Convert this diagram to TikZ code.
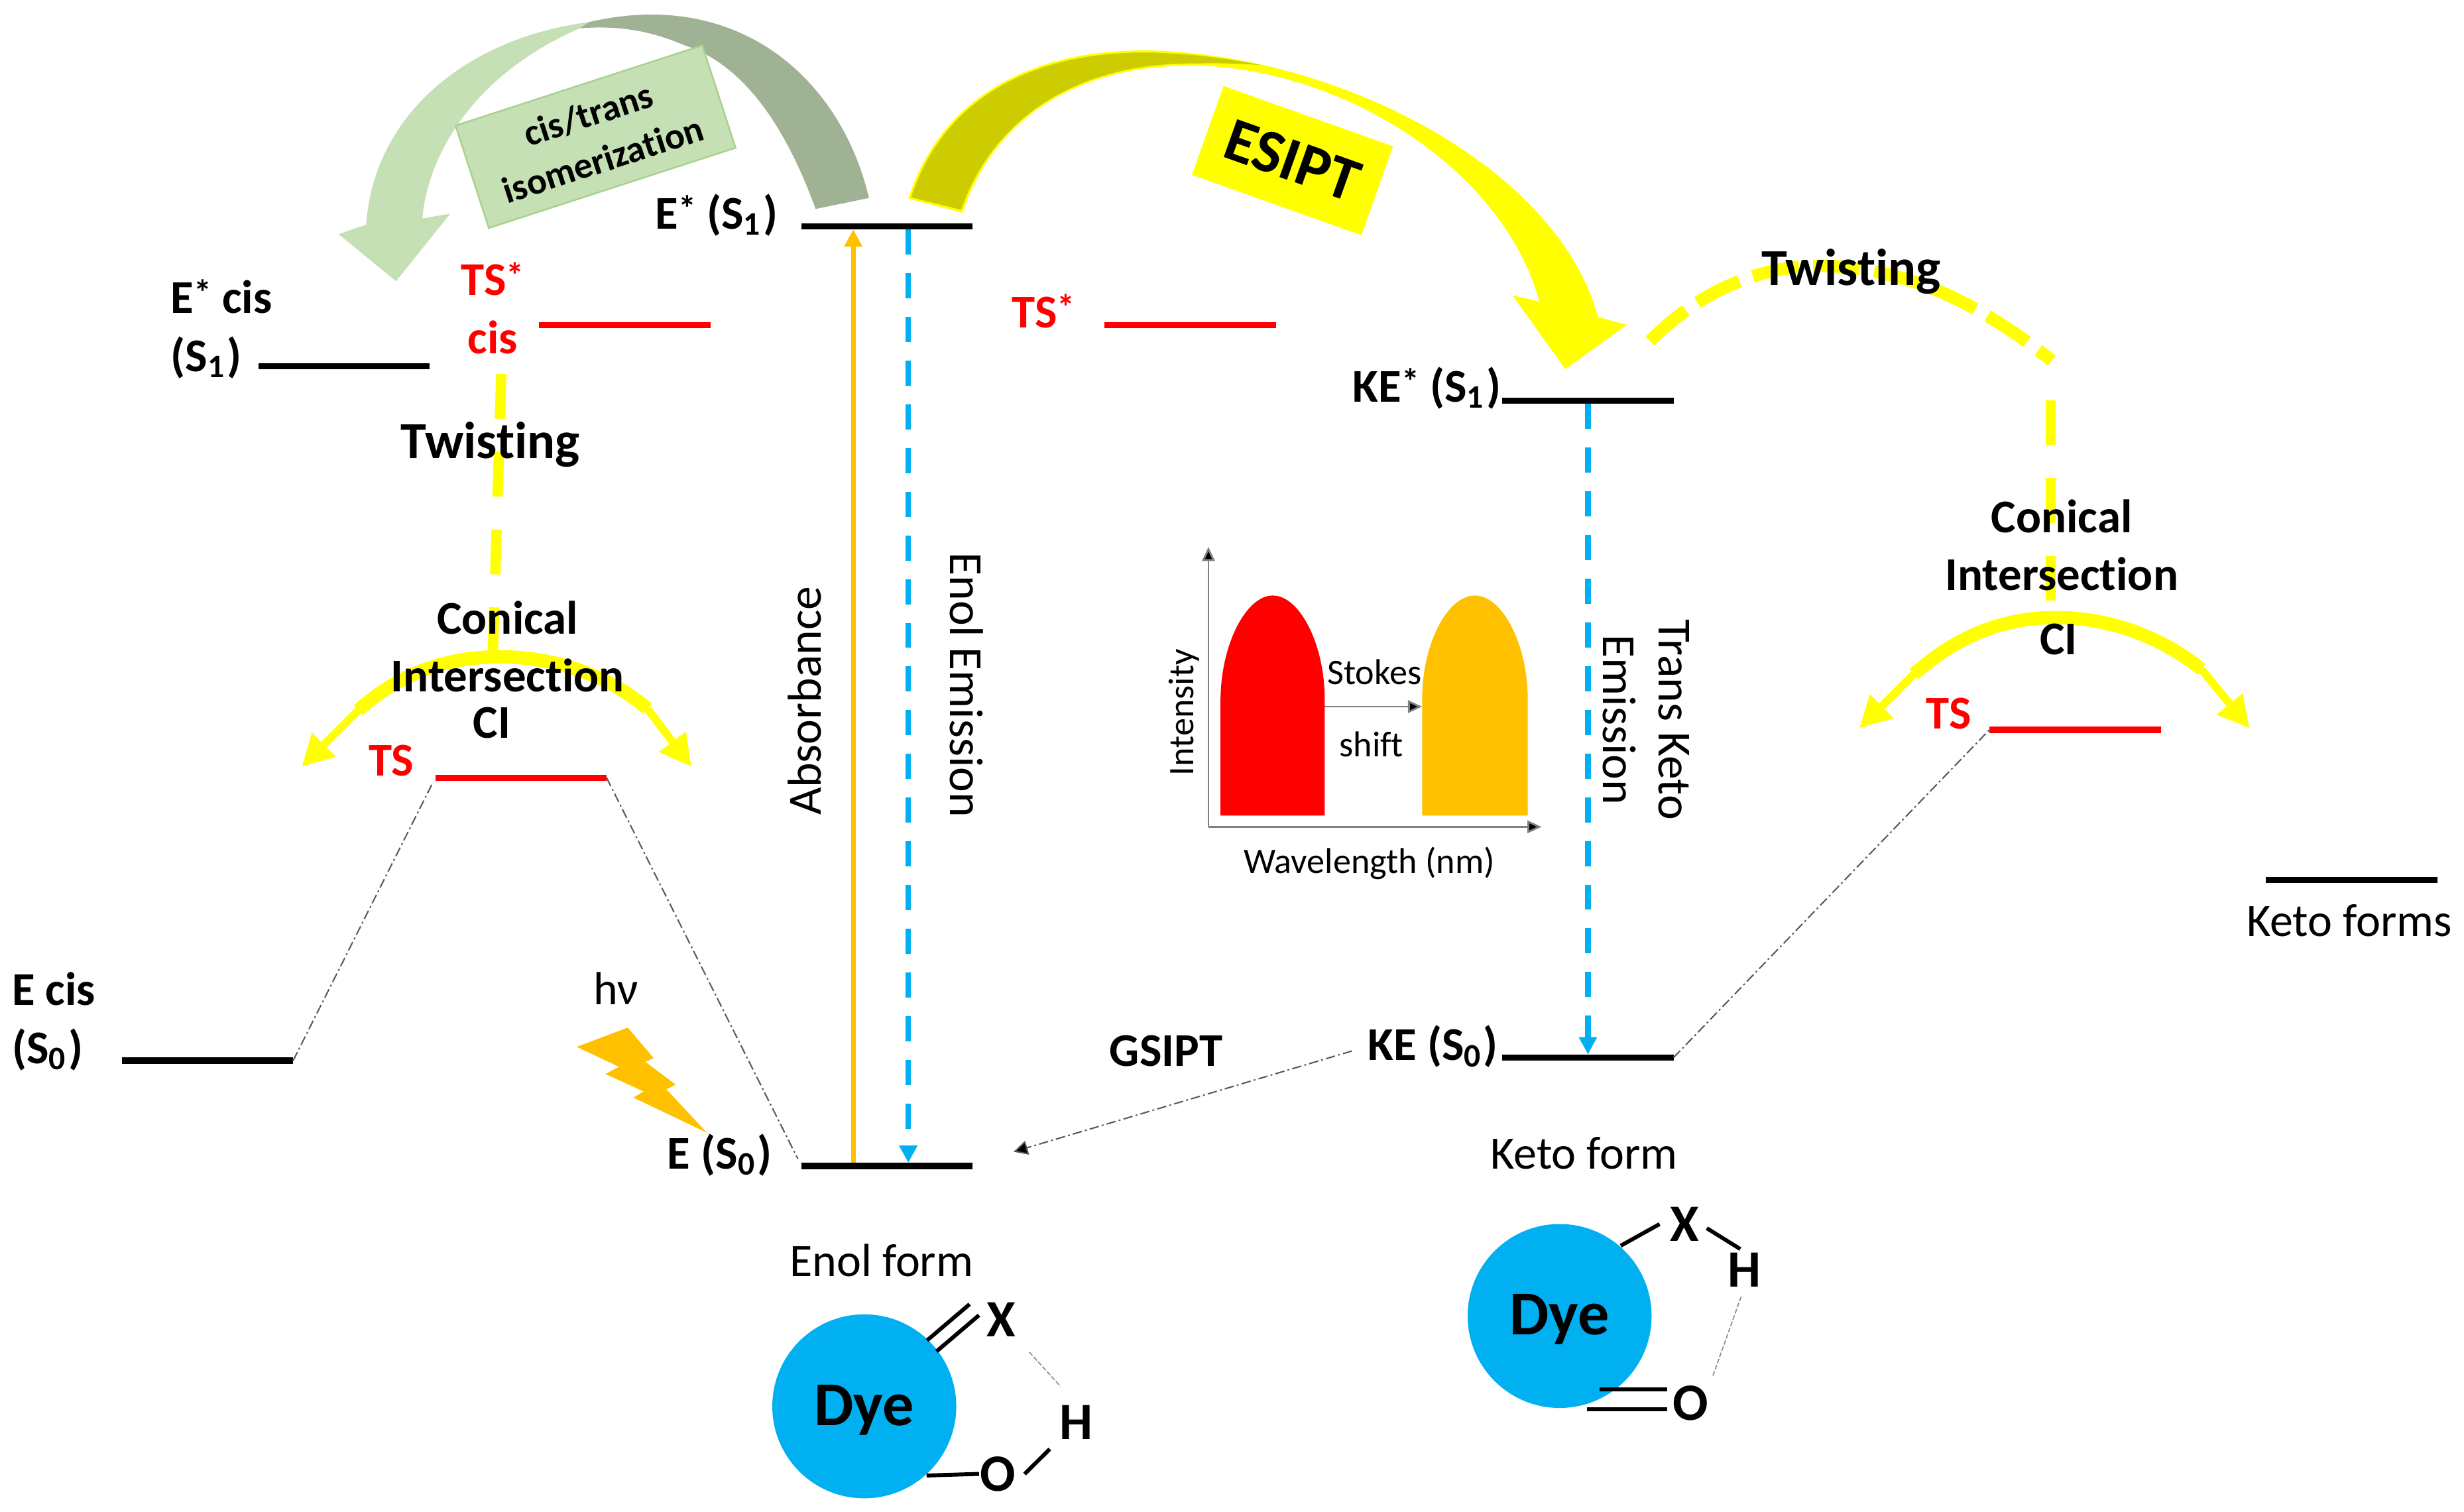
\documentclass[tikz,border=0pt]{standalone}
\usepackage{fontspec}
\setmainfont{Carlito}[Ligatures=NoCommon]
\usepackage{tikz}
\usetikzlibrary{arrows.meta}
\definecolor{esiptYellow}{HTML}{FFFF00}
\definecolor{esiptOlive}{HTML}{CCCC00}
\definecolor{isoLight}{HTML}{C5E0B4}
\definecolor{isoEdge}{HTML}{A9D18E}
\definecolor{isoDark}{HTML}{9FB394}
\definecolor{emBlue}{HTML}{00B0F0}
\definecolor{absOrange}{HTML}{FFC000}
\definecolor{guideGray}{HTML}{595959}
\newcommand{\supstar}{{\fontsize{6.5}{8}\selectfont\raisebox{0.45ex}{*}}}

\begin{document}
\begin{tikzpicture}[
    x=0.01cm, y=-0.01cm,
    level/.style={fill=black, minimum width=1.09cm, minimum height=0.04cm, inner sep=0pt, outer sep=0pt},
    tslevel/.style={level, fill=red},
    lbl/.style={font=\fontsize{8.5}{10.5}\selectfont\bfseries, inner sep=0pt, align=center},
    tslbl/.style={lbl, text=red},
    plainlbl/.style={font=\fontsize{8.4}{10}\selectfont, inner sep=0pt, align=center},
    sidelbl/.style={font=\fontsize{8.6}{10}\selectfont, inner sep=0pt, align=center},
    insetlbl/.style={font=\fontsize{6.5}{8}\selectfont, inner sep=0pt, align=center},
    dyecirc/.style={circle, fill=emBlue, minimum size=1.17cm, inner sep=0pt, text height=0.3cm, text depth=0.06cm,
        font=\fontsize{11.3}{13}\selectfont\bfseries},
    atomlbl/.style={font=\fontsize{9.5}{11}\selectfont\bfseries, inner sep=0pt},
    absarr/.style={-{Triangle[length=0.11cm,width=0.11cm]}, absOrange, line width=0.03cm},
    emarr/.style={-{Triangle[length=0.11cm,width=0.11cm]}, emBlue, line width=0.035cm, dash pattern=on 0.16cm off 0.118cm},
    guide/.style={guideGray, line width=0.25pt, dash pattern=on 0.06cm off 0.02cm on 0.012cm off 0.02cm},
    twistdash/.style={esiptYellow, line width=0.066cm, dash pattern=on 0.285cm off 0.21cm},
    ciarc/.style={esiptYellow, line width=0.085cm},
    ciarr/.style={-{Triangle[length=0.2cm,width=0.2cm]}, esiptYellow, line width=0.05cm},
    axisarr/.style={-{Triangle[length=0.09cm,width=0.08cm,fill=black]}, gray, line width=0.012cm},
    bond/.style={black, line width=0.025cm},
    hbond/.style={guideGray!70, line width=0.2pt, dash pattern=on 0.03cm off 0.012cm},
]
\useasboundingbox (0,0) rectangle (1568,962.2);

%% =================================================================
%% cis/trans arrow (top left)
%% =================================================================
\fill[isoLight] (375,14) .. controls (298,24) and (238,72) .. (233,143)
    -- (215.5,149) -- (252,179) -- (286.5,136) -- (268.8,139)
    .. controls (272,100) and (300,48) .. (369,18) -- cycle;
\fill[isoDark] (375,14) .. controls (470,-8) and (535,50) .. (553,126)
    -- (519,133)
    .. controls (498,75) and (470,40) .. (436,29) .. controls (415,20) and (395,16) .. (369,18) -- cycle;
\node[fill=isoLight, draw=isoEdge, line width=0.3pt, rotate=18, minimum width=1.65cm, minimum height=0.685cm,
      inner sep=0pt, align=center, font=\fontsize{6.7}{8.6}\selectfont\bfseries] (isobox)
    at (379,87) {cis/trans\\isomerization};

%% =================================================================
%% ESIPT arrow
%% =================================================================
\filldraw[fill=esiptYellow, draw=esiptYellow, line width=0.2pt]
    (578.5,126.2) .. controls (600,60) and (660,30) .. (737,32.6)
    .. controls (860,38) and (992,110) .. (1016.6,202)
    -- (1034.3,206.9) -- (996.2,234.4) -- (963.3,188.5) -- (980.1,192.4)
    .. controls (958,110) and (860,45) .. (763,41.3)
    .. controls (680,40) and (630,80) .. (612.4,135) -- cycle;
\fill[esiptOlive]
    (579.8,125.6) .. controls (601,61) and (660,31) .. (737,33.6)
    .. controls (760,34.5) and (780,37) .. (803,41.5)
    .. controls (790,40.5) and (775,40) .. (763,40.4)
    .. controls (680,39) and (630,80) .. (611.6,133.5) -- cycle;
\node[fill=esiptYellow, rotate=-19.6, minimum width=1.144cm, minimum height=0.6cm, inner sep=0pt,
      font=\fontsize{11.2}{13}\selectfont\bfseries] (esiptbox)
    at (822.5,102.2) {ESIPT};

%% =================================================================
%% Twisting and conical intersection, left
%% =================================================================
\coordinate (twlA) at (319,238);
\coordinate (twlB) at (313.6,416.6);
\draw[twistdash] (twlA) -- (twlB);
\coordinate (cilL) at (228,452);
\coordinate (cilR) at (412,451);
\coordinate (citL) at (192,488);
\coordinate (citR) at (440,488);
\draw[ciarc] (cilL) .. controls (255,428) and (285,418) .. (318,418) .. controls (350,418) and (385,428) .. (cilR);
\draw[ciarr] (cilL) -- (citL);
\draw[ciarr] (cilR) -- (citR);

%% =================================================================
%% Twisting and conical intersection, right
%% =================================================================
\coordinate (twaA) at (1050,217);
\coordinate (twaB) at (1305.6,229.5);
\draw[esiptYellow, line width=0.08cm, dash pattern=on 0.3cm off 0.09cm]
    (twaA) .. controls (1095,172) and (1145,165) .. (1180,171) .. controls (1230,176) and (1275,205) .. (twaB);
\coordinate (twrA) at (1305,254.7);
\coordinate (twrB) at (1305,383);
\draw[twistdash] (twrA) -- (twrB);
\coordinate (cirL) at (1218,429);
\coordinate (cirR) at (1401,426);
\coordinate (citrL) at (1183.2,463.5);
\coordinate (citrR) at (1431.5,463.5);
\draw[ciarc] (cirL) .. controls (1245,405) and (1275,393) .. (1308,393) .. controls (1342,393) and (1375,405) .. (cirR);
\draw[ciarr] (cirL) -- (citrL);
\draw[ciarr] (cirR) -- (citrR);

%% =================================================================
%% Energy levels
%% =================================================================
\node[level] (Eone) at (564.5,144) {};
\node[level] (Ecisone) at (219,233) {};
\node[tslevel] (TScisone) at (397.5,207) {};
\node[tslevel] (TSone) at (757.5,207) {};
\node[level] (KEone) at (1010.5,255) {};
\node[tslevel] (TSl) at (331.5,495) {};
\node[level] (Eciszero) at (132,675) {};
\node[level] (Ezero) at (564.5,742) {};
\node[level] (KEzero) at (1010.5,673) {};
\node[tslevel] (TSr) at (1320.5,464.5) {};
\node[level] (Ketoforms) at (1496.5,560) {};

%% Transitions
\draw[absarr] ([xshift=-0.215cm]Ezero.north) -- ([xshift=-0.215cm]Eone.south);
\draw[emarr] ([xshift=0.135cm]Eone.south) -- ([xshift=0.135cm]Ezero.north);
\draw[emarr] (KEone.south) -- (KEzero.north);

%% Thin guides
\draw[guide, shorten >=0.05cm] (Eciszero.east) -- (TSl.west);
\draw[guide, shorten >=0.05cm] (TSl.east) -- (Ezero.west);
\draw[guide] (KEzero.east) -- (TSr.west);

%% =================================================================
%% Labels
%% =================================================================
\node[lbl] (Eonelbl) at (456,137) {E\supstar{} (S\textsubscript{1})};
\node[lbl, align=left, anchor=west] (Ecisonelbl) at (108,209.5) {E\supstar{} cis\\(S\textsubscript{1})};
\node[tslbl] (TScislbl) at (313.5,196) {TS\supstar\\cis};
\node[tslbl] (TSonelbl) at (664,198) {TS\supstar};
\node[lbl] (KEonelbl) at (908,247) {KE\supstar{} (S\textsubscript{1})};
\node[lbl, font=\fontsize{9.4}{11}\selectfont\bfseries] (twistl) at (312,283) {Twisting};
\node[lbl, font=\fontsize{9.4}{11}\selectfont\bfseries] (twistr) at (1178,173) {Twisting};
\node[lbl] (conl) at (323,411.5) {Conical\\Intersection};
\node[lbl] (cil) at (313,460) {CI};
\node[lbl] (conr) at (1312,347) {Conical\\Intersection};
\node[lbl] (cir) at (1310,407) {CI};
\node[tslbl] (TSllbl) at (249,484) {TS};
\node[tslbl] (TSrlbl) at (1240,454) {TS};
\node[lbl, align=left, anchor=west] (Eciszerolbl) at (7,650) {E cis\\(S\textsubscript{0})};
\node[plainlbl] (hnu) at (392,629) {hν};
\node[lbl] (Ezerolbl) at (458,735) {E (S\textsubscript{0})};
\node[lbl] (KEzerolbl) at (912,666) {KE (S\textsubscript{0})};
\node[lbl] (gsipt) at (742,669) {GSIPT};
\node[plainlbl] (enolf) at (561,802) {Enol form};
\node[plainlbl] (ketof) at (1008,734) {Keto form};
\node[plainlbl] (ketofs) at (1495,586) {Keto forms};
\node[sidelbl, rotate=90] (absorb) at (512,446) {Absorbance};
\node[sidelbl, rotate=-90] (enolem) at (615,436) {Enol Emission};
\node[sidelbl, rotate=-90] (transkem) at (1047.5,458) {Trans Keto\\Emission};

%% GSIPT connector
\coordinate (gsiptend) at (645,733);
\draw[guide, -{Triangle[length=0.09cm,width=0.09cm,fill=black]}, shorten <=0.1cm] (KEzerolbl.west) -- (gsiptend);

%% Light bolt
\fill[absOrange] (399.5,654) -- (416,673.4) -- (410.7,675.8) -- (430,690.3) -- (424,693.2) -- (449.8,720.8)
    -- (403.1,698.5) -- (409.6,694.6) -- (385.3,683.5) -- (393.9,678.9) -- (367,666.2) -- cycle;

%% =================================================================
%% Stokes shift inset
%% =================================================================
\fill[red] (776.7,519) -- (776.7,445) .. controls (777,410) and (793,379) .. (810,379)
    .. controls (827,379) and (843,410) .. (843,445) -- (843,519) -- cycle;
\fill[absOrange] (905,519) -- (905,445) .. controls (905,410) and (921,379) .. (938.6,379)
    .. controls (956,379) and (972.2,410) .. (972.2,445) -- (972.2,519) -- cycle;
\coordinate (axO) at (769,526.2);
\coordinate (axY) at (769,348);
\coordinate (axX) at (981,526.2);
\coordinate (stA) at (843,449.7);
\coordinate (stB) at (905,449.7);
\draw[axisarr] (axO) -- (axY);
\draw[axisarr] (axO) -- (axX);
\draw[axisarr] (stA) -- (stB);
\node[insetlbl] (stokes) at (874.6,427.5) {Stokes};
\node[insetlbl] (shiftlbl) at (872.7,473.5) {shift};
\node[insetlbl] (wavelen) at (871.4,549.3) {Wavelength (nm)};
\node[insetlbl, rotate=90] (intens) at (753.5,453.3) {Intensity};

%% =================================================================
%% Enol structure
%% =================================================================
\node[dyecirc] (dyeE) at (550,895) {Dye};
\node[atomlbl] (Xe) at (637,840) {X};
\node[atomlbl] (He) at (685,905) {H};
\node[atomlbl] (Oe) at (635,938) {O};
\draw[bond] (590,853) -- (617,830);
\draw[bond] (596,860) -- (623,837);
\draw[bond] (dyeE.-48.7) -- (Oe.west);
\draw[bond, shorten <=0.07cm, shorten >=0.08cm] ([yshift=-0.05cm]Oe.east) -- (He.south west);
\draw[hbond, shorten <=0.12cm, shorten >=0.15cm] (Xe.south east) -- (He.north);

%% =================================================================
%% Keto structure
%% =================================================================
\node[dyecirc] (dyeK) at (992.5,837.5) {Dye};
\node[atomlbl] (Xk) at (1072,779) {X};
\node[atomlbl] (Hk) at (1110,808) {H};
\node[atomlbl] (Ok) at (1076,893) {O};
\draw[bond] (dyeK.49) -- ([xshift=-0.06cm]Xk.west);
\draw[bond, shorten <=0.05cm, shorten >=0.03cm] (Xk.east) -- (Hk.north);
\draw[bond] (1018,884) -- (1061,884);
\draw[bond] (1010,897) -- (1061,897);
\draw[hbond, shorten <=0.06cm, shorten >=0.06cm] (Hk.south) -- (Ok.north east);

\end{tikzpicture}
\end{document}
